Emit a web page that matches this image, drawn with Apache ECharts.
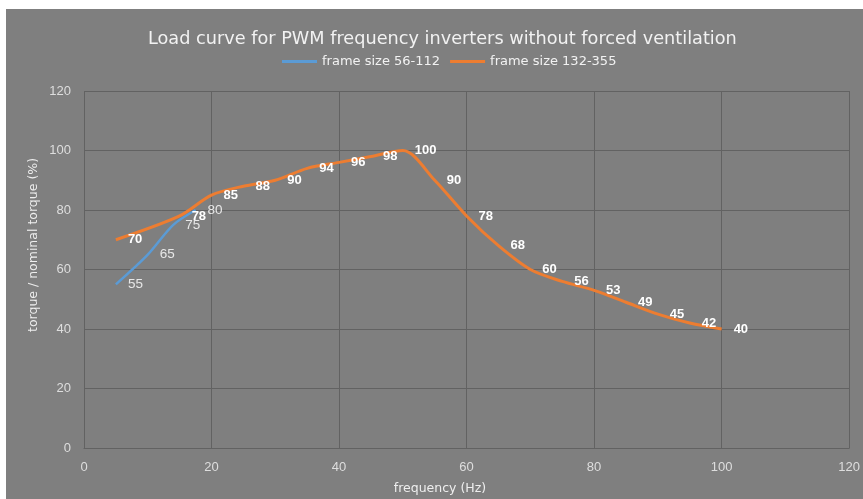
<!DOCTYPE html>
<html><head><meta charset="utf-8">
<script src="https://cdn.jsdelivr.net/npm/echarts@6/dist/echarts.min.js"></script>
<style>html,body{margin:0;padding:0;background:#fff;}#c{width:863px;height:499px;}</style>
</head><body><div id="c"></div>
<script>
const titleText = 'Load curve for PWM frequency inverters without forced ventilation';
const xTitle = 'frequency (Hz)';
const yTitle = 'torque / nominal torque (%)';
const seriesNames = ['frame size 56-112', 'frame size 132-355'];
const smallFreq = [5, 10, 14, 17.5];
const smallTorque = [55, 65, 75, 80];
const largeFreq = [5, 15, 20, 25, 30, 35, 40, 45, 50, 55, 60, 65, 70, 75, 80, 85, 90, 95, 100];
const largeTorque = [70, 78, 85, 88, 90, 94, 96, 98, 100, 90, 78, 68, 60, 56, 53, 49, 45, 42, 40];

const chart = echarts.init(document.getElementById('c'), null, {renderer: 'canvas'});
const pair = (xs, ys) => xs.map((x, i) => [x, ys[i]]);
const font = '"DejaVu Sans", sans-serif';
const tickFont = '"Liberation Sans", Arial, sans-serif';
const gridColor = '#626262';
chart.setOption({
  backgroundColor: '#ffffff',
  animation: false,
  graphic: [
    {type: 'rect', z: -100, zlevel: 0, silent: true,
     shape: {x: 6, y: 9, width: 857, height: 490}, style: {fill: '#7f7f7f'}},
    {type: 'text', x: 440, y: 489, silent: true,
     style: {text: xTitle, fill: '#eeeeee', font: '12.5px "DejaVu Sans", sans-serif',
       align: 'center', verticalAlign: 'middle'}},
    {type: 'text', x: 34, y: 245, rotation: Math.PI / 2, silent: true,
     style: {text: yTitle, fill: '#eeeeee', font: '12.5px "DejaVu Sans", sans-serif',
       align: 'center', verticalAlign: 'middle'}}
  ],
  title: {text: titleText, left: 143, top: 25,
    textStyle: {color: '#f2f2f2', fontSize: 17.7, fontWeight: 'normal', fontFamily: font}},
  legend: {top: 50, left: 277, itemWidth: 35, itemHeight: 3, itemGap: 10,
    icon: 'rect', itemStyle: {opacity: 1},
    textStyle: {color: '#f2f2f2', fontSize: 13, fontFamily: font},
    data: seriesNames},
  grid: {left: 84, right: 11, top: 91, bottom: 51, containLabel: false},
  xAxis: {type: 'value', min: 0, max: 120, interval: 20,
    axisLine: {show: true, lineStyle: {color: gridColor}},
    axisTick: {show: false},
    axisLabel: {color: '#dedede', fontSize: 13, margin: 13, fontFamily: tickFont},
    splitLine: {show: true, lineStyle: {color: gridColor, width: 1}}},
  yAxis: {type: 'value', min: 0, max: 120, interval: 20,
    axisLine: {show: false}, axisTick: {show: false},
    axisLabel: {color: '#dedede', fontSize: 13, margin: 13, fontFamily: tickFont},
    splitLine: {show: true, lineStyle: {color: gridColor, width: 1}}},
  series: [
    {name: seriesNames[0], type: 'line', smooth: 0.3, showSymbol: true, symbol: 'circle', symbolSize: 2,
     color: '#5b9bd5', itemStyle: {opacity: 0}, lineStyle: {width: 2.5, color: '#5b9bd5'},
     data: pair(smallFreq, smallTorque),
     label: {show: true, position: 'right', distance: 11, color: '#e8e8e8', opacity: 1,
       fontSize: 13.5, fontFamily: tickFont,
       formatter: p => p.value[1]}, z: 3},
    {name: seriesNames[1], type: 'line', smooth: 0.3, showSymbol: true, symbol: 'circle', symbolSize: 2,
     color: '#ed7d31', itemStyle: {opacity: 0}, lineStyle: {width: 3, color: '#ed7d31'},
     data: pair(largeFreq, largeTorque),
     label: {show: true, position: 'right', distance: 11, color: '#ffffff', opacity: 1,
       fontSize: 13, fontWeight: 'bold', fontFamily: tickFont,
       formatter: p => p.value[1]}, z: 4}
  ]
});
</script></body></html>
